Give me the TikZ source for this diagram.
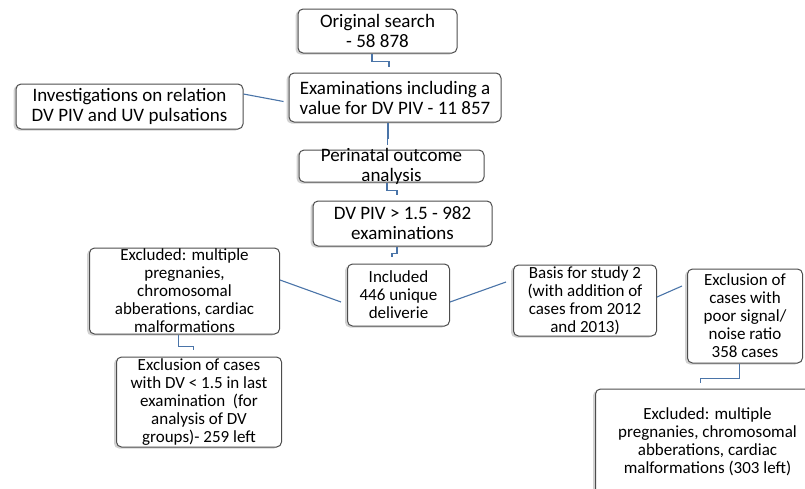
\documentclass[tikz,border=0pt]{standalone}
\usepackage{fontspec}
\setmainfont{Carlito}
\usetikzlibrary{positioning,shadows}
\definecolor{linkblue}{HTML}{4A74A8}
\definecolor{boxgray}{HTML}{4D4D4D}

\begin{document}
\begin{tikzpicture}[x=1pt, y=1pt, node distance=20pt,
  box/.style={rectangle, draw=boxgray, line width=1pt, rounded corners=5pt, fill=white, inner sep=0pt, align=center,
    drop shadow={shadow xshift=-2.5pt, shadow yshift=-1.5pt, opacity=0.18, fill=black}},
  bigbox/.style={box, font=\fontsize{19}{20}\selectfont},
  smallbox/.style={box, font=\fontsize{17}{18}\selectfont},
  link/.style={draw=linkblue, line width=1.1pt}]

\useasboundingbox (0,0) rectangle (805,-488);
\clip (0,0) rectangle (805,-488);

%Nodes
\node[bigbox, minimum width=159pt, minimum height=44pt] (orig) at (377.5,-31) {Original search\\- 58 878};
\node[bigbox, minimum width=212pt, minimum height=49pt] (exam) [below=19pt of orig, xshift=17.5pt] {Examinations including a\\value for DV PIV - 11 857};
\node[bigbox, minimum width=227pt, minimum height=45pt] (invest) [left=45pt of exam, yshift=-9pt] {Investigations on relation\\DV PIV and UV pulsations};
\node[bigbox, minimum width=185pt, minimum height=32pt, inner ysep=-4pt] (perin) [below=27pt of exam, xshift=-3.5pt] {Perinatal outcome\\analysis};
\node[bigbox, minimum width=179pt, minimum height=45pt] (dvpiv) [below=18pt of perin, xshift=11pt] {DV PIV > 1.5 - 982\\examinations};
\node[smallbox, minimum width=102pt, minimum height=62pt] (incl) [below=17pt of dvpiv, xshift=-4pt] {Included\\446 unique\\deliverie};
\node[smallbox, minimum width=190pt, minimum height=86pt, inner ysep=-2pt] (exclL) [left=67pt of incl, yshift=4pt] {Excluded: multiple\\pregnanies,\\chromosomal\\abberations, cardiac\\malformations};
\node[smallbox, minimum width=165pt, minimum height=90pt] (exclDV) [below=22pt of exclL, xshift=14.5pt] {Exclusion of cases\\with DV < 1.5 in last\\examination~ (for\\analysis of DV\\groups)- 259 left};
\node[smallbox, minimum width=143pt, minimum height=71pt] (basis) [right=63pt of incl, yshift=-5.5pt] {Basis for study 2\\(with addition of\\cases from 2012\\and 2013)};
\node[smallbox, minimum width=115pt, minimum height=94pt] (poor) [right=30pt of basis, yshift=-15.5pt] {Exclusion of\\cases with\\poor signal/\\noise ratio\\358 cases};
\node[smallbox, minimum width=224pt, minimum height=106pt] (exclR) [below=25pt of poor, xshift=-37.5pt] {Excluded: multiple\\pregnanies, chromosomal\\abberations, cardiac\\malformations (303 left)};

%Lines
\draw[link, shorten >=6pt] ([xshift=-5.5pt]orig.south) -- ++(0,-8) -| ([xshift=-6pt]exam.north);
\draw[link] ([yshift=12.5pt]invest.east) -- ([xshift=-5pt,yshift=-4pt]exam.west);
\draw[link, shorten >=5pt] ([xshift=-7pt]exam.south) -- ++(0,-16) -| ([xshift=-4pt]perin.north);
\draw[link, shorten >=6pt] ([xshift=-4.5pt]perin.south) -- ++(0,-8) -| ([xshift=-5.5pt]dvpiv.north);
\draw[link, shorten >=7pt] ([xshift=-5.5pt]dvpiv.south) -- ++(0,-7) -| ([xshift=-6.5pt]incl.north);

\draw[link] ([xshift=-6pt,yshift=-7pt]incl.west) -- ([yshift=11pt]exclL.east);
\draw[link, shorten >=7pt] ([xshift=-6pt]exclL.south) -- ++(0,-12) -| ([xshift=-5.5pt]exclDV.north);

\draw[link] ([yshift=-7pt]incl.east) -- ([xshift=-7pt,yshift=18.5pt]basis.west);
\draw[link] ([yshift=3.5pt]basis.east) -- ([xshift=-5pt,yshift=30pt]poor.west);
\draw[link, shorten >=6pt] ([xshift=-5.5pt]poor.south) -- ++(0,-15) -| ([xshift=-7pt]exclR.north);

\end{tikzpicture}
\end{document}
